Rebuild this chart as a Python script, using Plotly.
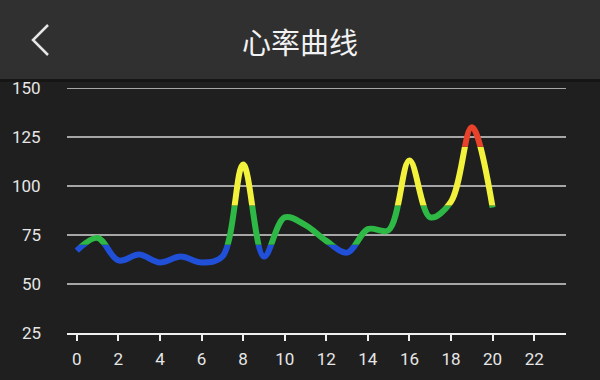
import plotly.graph_objects as go

# ---- data ----
hr_x = [0, 1, 2, 3, 4, 5, 6, 7, 8, 9, 10, 11, 12, 13, 14, 15, 16, 17, 18, 19, 20]
hr_bpm = [67, 73.5, 62, 65, 61, 64, 61, 64, 111, 64, 84, 80, 72, 66, 78, 77.5, 113, 84, 92, 130, 89]
x_ticks = [0, 2, 4, 6, 8, 10, 12, 14, 16, 18, 20, 22]
y_ticks = [25, 50, 75, 100, 125, 150]
grid_vals = [50, 75, 100, 125, 150]
# colour bands (lower bound, upper bound, colour)
band_lo = [25, 70, 90, 120]
band_hi = [70, 90, 120, 150]
band_colors = ["#2050d8", "#2eb845", "#f2f23c", "#e8422a"]
title_text = "心率曲线"

# ---- geometry (pixels) ----
W, H = 600, 380
L, R, T, B = 67, 566, 88, 333
Y_MIN, Y_MAX = 25, 150


def px_x(p):
    return (p - L) / (R - L)


def px_y(p):
    return (B - p) / (B - T)


fig = go.Figure()

# dummy trace so the main subplot exists
fig.add_trace(go.Scatter(x=hr_x[:1], y=hr_bpm[:1], mode="none",
                         showlegend=False, hoverinfo="skip",
                         xaxis="x", yaxis="y"))

layout_axes = {}
for i, (lo, hi, col) in enumerate(zip(band_lo, band_hi, band_colors)):
    ax = "y%d" % (i + 2)
    fig.add_trace(go.Scatter(
        x=hr_x, y=hr_bpm, mode="lines",
        line=dict(color=col, width=6, shape="spline", smoothing=1.0),
        xaxis="x", yaxis=ax, showlegend=False, hoverinfo="skip"))
    layout_axes["yaxis%d" % (i + 2)] = dict(
        domain=[(lo - Y_MIN) / (Y_MAX - Y_MIN), (hi - Y_MIN) / (Y_MAX - Y_MIN)],
        range=[lo, hi], visible=False, anchor="x", fixedrange=True)

shapes = []
# header bar
shapes.append(dict(type="rect", xref="paper", yref="paper",
                   x0=px_x(0), x1=px_x(W), y0=px_y(79), y1=px_y(-5),
                   fillcolor="#303030", line=dict(width=0), layer="below"))
shapes.append(dict(type="rect", xref="paper", yref="paper",
                   x0=px_x(0), x1=px_x(W), y0=px_y(82), y1=px_y(79),
                   fillcolor="#161616", line=dict(width=0), layer="below"))
# back chevron
shapes.append(dict(type="path", xref="paper", yref="paper",
                   path="M %f %f L %f %f L %f %f" % (px_x(48), px_y(25), px_x(33), px_y(40),
                                                  px_x(48), px_y(55)),
                   line=dict(color="#e6e6e6", width=2.5)))
# grid lines
for v in grid_vals:
    shapes.append(dict(type="line", xref="paper", yref="y", x0=0, x1=1, y0=v, y1=v,
                       line=dict(color="#a6a6a6", width=2), layer="below"))

annotations = [dict(text=title_text, x=px_x(300), y=px_y(41), xref="paper", yref="paper",
                    xanchor="center", yanchor="middle", showarrow=False,
                    font=dict(family="Noto Sans CJK SC", size=29, color="#f2f2f2"))]
for v in y_ticks:
    annotations.append(dict(text=str(v), x=px_x(43), y=v, xref="paper", yref="y",
                            xanchor="right", yanchor="middle", showarrow=False,
                            font=dict(family="Roboto", size=17, color="#e6e6e6")))

fig.update_layout(
    width=W, height=H,
    margin=dict(l=L, r=W - R, t=T, b=H - B, pad=0),
    paper_bgcolor="#1f1f1f",
    plot_bgcolor="rgba(0,0,0,0)",
    showlegend=False,
    xaxis=dict(range=[-0.47, 23.53], tickvals=x_ticks, ticktext=[str(t) for t in x_ticks],
               ticks="outside", ticklen=6, tickwidth=2, tickcolor="#f0f0f0",
               showline=True, linecolor="#f0f0f0", linewidth=2,
               showgrid=False, zeroline=False, anchor="y",
               ticklabelstandoff=4,
               tickfont=dict(family="Roboto", size=17, color="#e6e6e6"), fixedrange=True),
    yaxis=dict(domain=[0, 1], range=[Y_MIN, Y_MAX], showgrid=False, zeroline=False,
               showticklabels=False, ticks="", showline=False, fixedrange=True),
    shapes=shapes,
    annotations=annotations,
    **layout_axes,
)

fig.write_html("out.html", config={"displayModeBar": False, "staticPlot": True},
               post_script="document.body.style.margin='0';document.body.style.background='#1f1f1f';")
